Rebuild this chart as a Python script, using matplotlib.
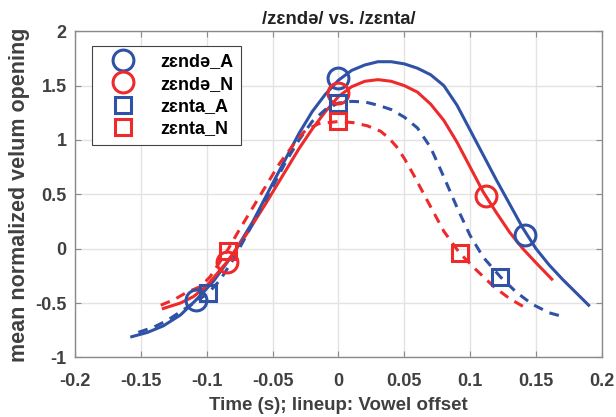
import numpy as np
import matplotlib
matplotlib.use("Agg")
import matplotlib.pyplot as plt

plt.rcParams['font.family'] = ['Liberation Sans', 'DejaVu Sans']

# zɛndə_A (blue solid)
zenda_A_t = [-0.157, -0.145, -0.133, -0.12, -0.108, -0.095, -0.08, -0.065, -0.05, -0.04, -0.03, -0.02,
             -0.01, 0, 0.01, 0.02, 0.03, 0.04, 0.05, 0.06, 0.07, 0.08, 0.09, 0.1, 0.11, 0.12,
             0.13, 0.14, 0.15, 0.16, 0.17, 0.18, 0.19]
zenda_A_v = [-0.81, -0.77, -0.71, -0.61, -0.47, -0.3, -0.05, 0.25, 0.6, 0.83, 1.06, 1.26,
             1.42, 1.55, 1.64, 1.69, 1.72, 1.72, 1.70, 1.66, 1.60, 1.50, 1.32, 1.09, 0.86, 0.63,
             0.41, 0.19, 0.0, -0.15, -0.28, -0.40, -0.52]
zenda_A_mt = [-0.108, 0, 0.142]
zenda_A_mv = [-0.47, 1.57, 0.13]

# zɛndə_N (red solid)
zenda_N_t = [-0.133, -0.12, -0.11, -0.1, -0.0845, -0.07, -0.055, -0.04, -0.03, -0.02, -0.01, 0,
             0.01, 0.02, 0.03, 0.04, 0.05, 0.06, 0.07, 0.08, 0.09, 0.1, 0.11, 0.12, 0.13,
             0.14, 0.15, 0.162]
zenda_N_v = [-0.55, -0.5, -0.44, -0.34, -0.12, 0.13, 0.42, 0.72, 0.92, 1.1, 1.26, 1.4,
             1.49, 1.54, 1.555, 1.54, 1.5, 1.44, 1.33, 1.18, 0.98, 0.75, 0.52, 0.33, 0.15,
             0.0, -0.13, -0.28]
zenda_N_mt = [-0.0845, 0, 0.112]
zenda_N_mv = [-0.12, 1.43, 0.48]

# zɛnta_A (blue dashed)
zenta_A_t = [-0.152, -0.14, -0.13, -0.12, -0.11, -0.099, -0.09, -0.08, -0.07, -0.06, -0.05, -0.04,
             -0.03, -0.02, -0.01, 0, 0.01, 0.02, 0.03, 0.04, 0.05, 0.06, 0.07, 0.08, 0.09, 0.1,
             0.11, 0.123, 0.135, 0.147, 0.16, 0.172]
zenta_A_v = [-0.77, -0.72, -0.66, -0.58, -0.5, -0.41, -0.29, -0.1, 0.12, 0.35, 0.57, 0.8,
             1.0, 1.17, 1.28, 1.34, 1.355, 1.35, 1.32, 1.28, 1.21, 1.11, 0.93, 0.66, 0.38, 0.12,
             -0.08, -0.26, -0.4, -0.51, -0.59, -0.63]
zenta_A_mt = [-0.099, 0, 0.123]
zenta_A_mv = [-0.41, 1.34, -0.26]

# zɛnta_N (red dashed)
zenta_N_t = [-0.135, -0.125, -0.115, -0.105, -0.0976, -0.09, -0.0836, -0.075, -0.065, -0.055, -0.045,
             -0.0316, -0.025, -0.015, 0, 0.011, 0.022, 0.032, 0.038, 0.044, 0.05, 0.057, 0.068,
             0.08, 0.092, 0.105, 0.118, 0.13, 0.14]
zenta_N_v = [-0.52, -0.47, -0.4, -0.35, -0.26, -0.12, 0.0, 0.18, 0.38, 0.58, 0.78,
             1.0, 1.09, 1.15, 1.17, 1.16, 1.13, 1.08, 1.02, 0.94, 0.83, 0.68, 0.43,
             0.16, -0.04, -0.2, -0.35, -0.46, -0.53]
zenta_N_mt = [-0.0836, 0, 0.092]
zenta_N_mv = [-0.02, 1.17, -0.04]

blue = '#2f52a6'
red = '#ee2a2a'
dash = (3.2, 2.4)

fig = plt.figure(figsize=(6.16, 4.17), dpi=100)
ax = fig.add_axes([0.122, 0.143, 0.855, 0.782])

ax.plot(zenda_A_t, zenda_A_v, color=blue, lw=2.2)
ax.plot(zenda_N_t, zenda_N_v, color=red, lw=2.2)
ax.plot(zenta_A_t, zenta_A_v, color=blue, lw=2.2, ls=(0, dash))
ax.plot(zenta_N_t, zenta_N_v, color=red, lw=2.2, ls=(0, dash))

ms_c = 15
ms_s = 11
h1, = ax.plot(zenda_A_mt, zenda_A_mv, 'o', ms=ms_c, mfc='none', mec=blue, mew=2.2, label='zɛndə_A')
h2, = ax.plot(zenda_N_mt, zenda_N_mv, 'o', ms=ms_c, mfc='none', mec=red, mew=2.2, label='zɛndə_N')
h3, = ax.plot(zenta_A_mt, zenta_A_mv, 's', ms=ms_s, mfc='none', mec=blue, mew=2.2, label='zɛnta_A')
h4, = ax.plot(zenta_N_mt, zenta_N_mv, 's', ms=ms_s, mfc='none', mec=red, mew=2.2, label='zɛnta_N')

ax.set_xlim(-0.2, 0.2)
ax.set_ylim(-1, 2)
ax.set_xticks(np.arange(-0.2, 0.201, 0.05))
ax.set_xticklabels(['-0.2', '-0.15', '-0.1', '-0.05', '0', '0.05', '0.1', '0.15', '0.2'])
ax.set_yticks(np.arange(-1, 2.01, 0.5))
ax.set_yticklabels(['-1', '-0.5', '0', '0.5', '1', '1.5', '2'])
ax.grid(True, color='#e3e3e3', lw=1)
ax.set_axisbelow(True)

for s in ax.spines.values():
    s.set_color('#8a8a8a')
    s.set_linewidth(1)
ax.tick_params(direction='in', length=4, color='#8a8a8a', labelsize=13, labelcolor='#404040',
               top=True, right=True)
ax.tick_params(axis='x', pad=11)
ax.tick_params(axis='y', pad=6)
for lab in ax.get_xticklabels() + ax.get_yticklabels():
    lab.set_fontweight('bold')

ax.set_xlabel('Time (s); lineup: Vowel offset', fontsize=13.5, fontweight='bold', color='#404040', labelpad=5)
ax.set_ylabel('mean normalized velum opening', fontsize=15.5, fontweight='bold', color='#404040', labelpad=4)
ax.set_title('/zɛndə/ vs. /zɛnta/', fontsize=13.3, fontweight='bold', color='#222222', pad=5)

leg = ax.legend(handles=[h1, h2, h3, h4], loc='upper left', bbox_to_anchor=(0.032, 0.955),
                prop={'weight': 'bold', 'size': 13}, fancybox=False, framealpha=1,
                edgecolor='#444444', borderpad=0.4, labelspacing=0.3, handletextpad=0.8,
                handlelength=2.6, borderaxespad=0, markerscale=1.0)
leg.get_frame().set_linewidth(0.8)

fig.savefig('out.png', dpi=100)
